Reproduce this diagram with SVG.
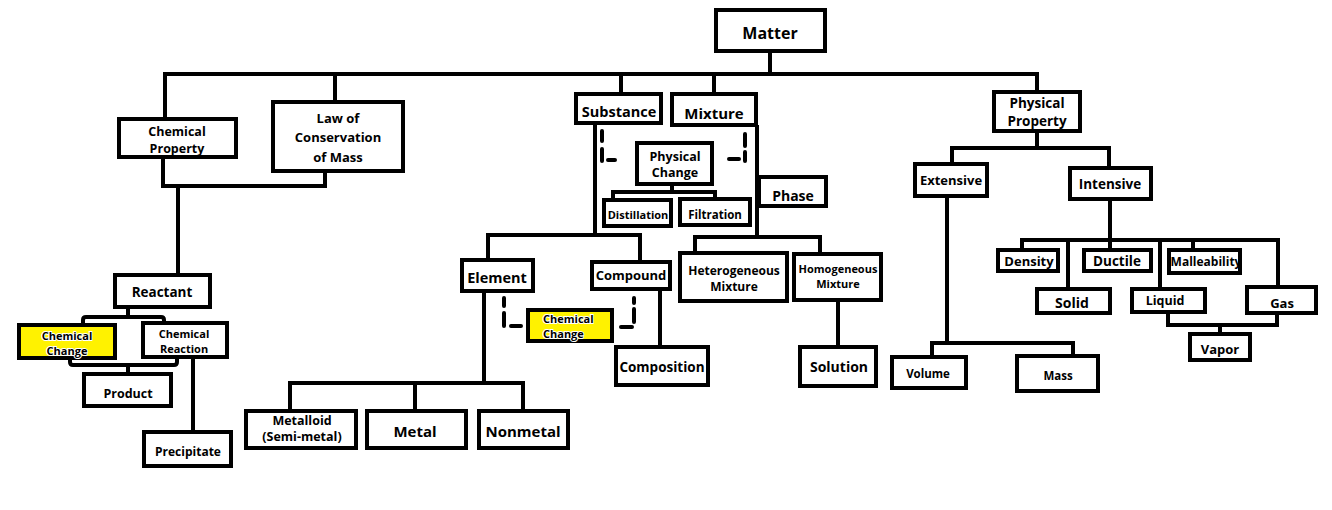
<svg xmlns="http://www.w3.org/2000/svg" width="1332" height="510" viewBox="0 0 1332 510">
<style>
.b{fill:#fff;stroke:#000;stroke-width:4}
.y{fill:#fff200;stroke:#000;stroke-width:4}
.c path{fill:none;stroke:#000;stroke-width:4;stroke-linejoin:miter}
.d path{fill:none;stroke:#000;stroke-width:4;stroke-linecap:round}
text{font-family:"Open Sans","Noto Sans","DejaVu Sans",sans-serif;font-weight:bold;fill:#000;text-anchor:middle;dominant-baseline:central}
.h{stroke:#fff;stroke-width:2;paint-order:stroke}
</style>
<rect width="1332" height="510" fill="#fff"/>
<g id="connectors" class="c">
<path d="M770,53V74"/>
<path d="M165,120V74H1037V92"/>
<path d="M335,74V102"/>
<path d="M621,74V94"/>
<path d="M714,74V94"/>
<path d="M163,159V186H325V173"/>
<path d="M178,186V275"/>
<path d="M128,309V317"/>
<path d="M83,325V320Q83,317 86,317H161Q164,317 164,320V323"/>
<path d="M70,358V362Q70,365 73,365H174Q177,365 177,362V357"/>
<path d="M128,365V374"/>
<path d="M193,357V432"/>
<path d="M595,123V235"/>
<path d="M488,260V235H640V262"/>
<path d="M757,125V237"/>
<path d="M695,253V237H820V254"/>
<path d="M672,184V192"/>
<path d="M613,200V192H715V199"/>
<path d="M660,289V347"/>
<path d="M838,300V347"/>
<path d="M484,291V383"/>
<path d="M290,411V383H523V411"/>
<path d="M415,383V411"/>
<path d="M1037,131V148"/>
<path d="M952,164V148H1109V168"/>
<path d="M1110,199V250"/>
<path d="M1022,250V240H1278V287"/>
<path d="M1068,240V289"/>
<path d="M1160,240V289"/>
<path d="M1193,240V250"/>
<path d="M1168,312V325H1277V313"/>
<path d="M1220,325V334"/>
<path d="M947,196V343"/>
<path d="M932,357V343H1073V356"/>
</g>
<g id="dashes" class="d">
<path d="M602,131V141M602,149V161M608,160H615"/>
<path d="M745,134V146M745,152V161M729,159H739"/>
<path d="M504,298V306M504,313V326M511,326H521"/>
<path d="M634,298V303M634,309V322M621,327H632"/>
</g>
<g id="matter"><rect class="b" x="716" y="10" width="109" height="41"/><text x="770" y="33" font-size="16">Matter</text></g>
<g id="chemical-property"><rect class="b" x="119" y="119" width="117" height="38"/><text x="177" y="131" font-size="12.5">Chemical</text><text x="177" y="148" font-size="12.5">Property</text></g>
<g id="law-conservation"><rect class="b" x="273" y="102" width="130" height="69"/><text x="338" y="118" font-size="13">Law of</text><text x="338" y="137" font-size="13">Conservation</text><text x="338" y="157" font-size="13">of Mass</text></g>
<g id="reactant"><rect class="b" x="115" y="275" width="95" height="32"/><text x="162" y="292" font-size="13.5">Reactant</text></g>
<g id="chemical-change-1"><rect class="y" x="19" y="325" width="96" height="33"/><text class="h" x="67" y="335" font-size="11">Chemical</text><text class="h" x="67" y="350" font-size="11">Change</text></g>
<g id="chemical-reaction"><rect class="b" x="143" y="323" width="84" height="34"/><text x="184" y="333" font-size="11">Chemical</text><text x="184" y="348" font-size="11">Reaction</text></g>
<g id="product"><rect class="b" x="84" y="374" width="87" height="32"/><text x="128" y="393" font-size="12.5">Product</text></g>
<g id="precipitate"><rect class="b" x="144" y="432" width="87" height="34"/><text x="188" y="451" font-size="12">Precipitate</text></g>
<g id="substance"><rect class="b" x="576" y="94" width="85" height="29"/><text x="619" y="111" font-size="14.5">Substance</text></g>
<g id="mixture"><rect class="b" x="672" y="94" width="84" height="31"/><text x="714" y="113" font-size="15">Mixture</text></g>
<g id="physical-change"><rect class="b" x="637" y="143" width="75" height="41"/><text x="675" y="156" font-size="12.5">Physical</text><text x="675" y="172" font-size="12.5">Change</text></g>
<g id="distillation"><rect class="b" x="604" y="200" width="67" height="26"/><text x="638" y="214" font-size="11">Distillation</text></g>
<g id="filtration"><rect class="b" x="680" y="199" width="70" height="26"/><text x="715" y="214" font-size="11.5">Filtration</text></g>
<g id="phase"><rect class="b" x="759" y="177" width="67" height="29"/><text x="793" y="195" font-size="14">Phase</text></g>
<g id="element"><rect class="b" x="462" y="260" width="71" height="31"/><text x="497" y="277" font-size="14.5">Element</text></g>
<g id="compound"><rect class="b" x="592" y="262" width="78" height="27"/><text x="631" y="275" font-size="13">Compound</text></g>
<g id="heterogeneous"><rect class="b" x="680" y="253" width="107" height="48"/><text x="734" y="270" font-size="12">Heterogeneous</text><text x="734" y="286" font-size="12">Mixture</text></g>
<g id="homogeneous"><rect class="b" x="794" y="254" width="87" height="46"/><text x="838" y="268" font-size="11">Homogeneous</text><text x="838" y="283" font-size="11">Mixture</text></g>
<g id="chemical-change-2"><rect class="y" x="528" y="310" width="84" height="31"/><text class="h" x="543" y="318" font-size="11" style="text-anchor:start">Chemical</text><text class="h" x="543" y="333" font-size="11" style="text-anchor:start">Change</text></g>
<g id="composition"><rect class="b" x="616" y="347" width="92" height="38"/><text x="662" y="367" font-size="13.5">Composition</text></g>
<g id="solution"><rect class="b" x="800" y="347" width="76" height="39"/><text x="839" y="366" font-size="14">Solution</text></g>
<g id="metalloid"><rect class="b" x="246" y="411" width="110" height="37"/><text x="302" y="420" font-size="12.5">Metalloid</text><text x="302" y="436" font-size="12.5">(Semi-metal)</text></g>
<g id="metal"><rect class="b" x="367" y="411" width="99" height="37"/><text x="415" y="431" font-size="15">Metal</text></g>
<g id="nonmetal"><rect class="b" x="479" y="411" width="89" height="37"/><text x="523" y="431" font-size="15">Nonmetal</text></g>
<g id="physical-property"><rect class="b" x="994" y="92" width="86" height="39"/><text x="1037" y="103" font-size="13.5">Physical</text><text x="1037" y="121" font-size="13.5">Property</text></g>
<g id="extensive"><rect class="b" x="915" y="164" width="72" height="32"/><text x="951" y="180" font-size="13">Extensive</text></g>
<g id="intensive"><rect class="b" x="1070" y="168" width="81" height="31"/><text x="1110" y="184" font-size="13.5">Intensive</text></g>
<g id="density"><rect class="b" x="998" y="250" width="60" height="21"/><text x="1029" y="261" font-size="13">Density</text></g>
<g id="ductile"><rect class="b" x="1084" y="250" width="67" height="21"/><text x="1117" y="261" font-size="13.5">Ductile</text></g>
<g id="malleability"><rect class="b" x="1169" y="250" width="71" height="23"/><text x="1206" y="261" font-size="12">Malleability</text></g>
<g id="solid"><rect class="b" x="1037" y="289" width="73" height="24"/><text x="1072" y="302" font-size="14">Solid</text></g>
<g id="liquid"><rect class="b" x="1132" y="289" width="73" height="23"/><text x="1165" y="300" font-size="12.5">Liquid</text></g>
<g id="gas"><rect class="b" x="1247" y="287" width="69" height="26"/><text x="1282" y="303" font-size="13">Gas</text></g>
<g id="vapor"><rect class="b" x="1190" y="334" width="60" height="26"/><text x="1220" y="349" font-size="13">Vapor</text></g>
<g id="volume"><rect class="b" x="892" y="357" width="74" height="31"/><text x="928" y="373" font-size="11.5">Volume</text></g>
<g id="mass"><rect class="b" x="1017" y="356" width="81" height="35"/><text x="1058" y="375" font-size="11.5">Mass</text></g>
</svg>
